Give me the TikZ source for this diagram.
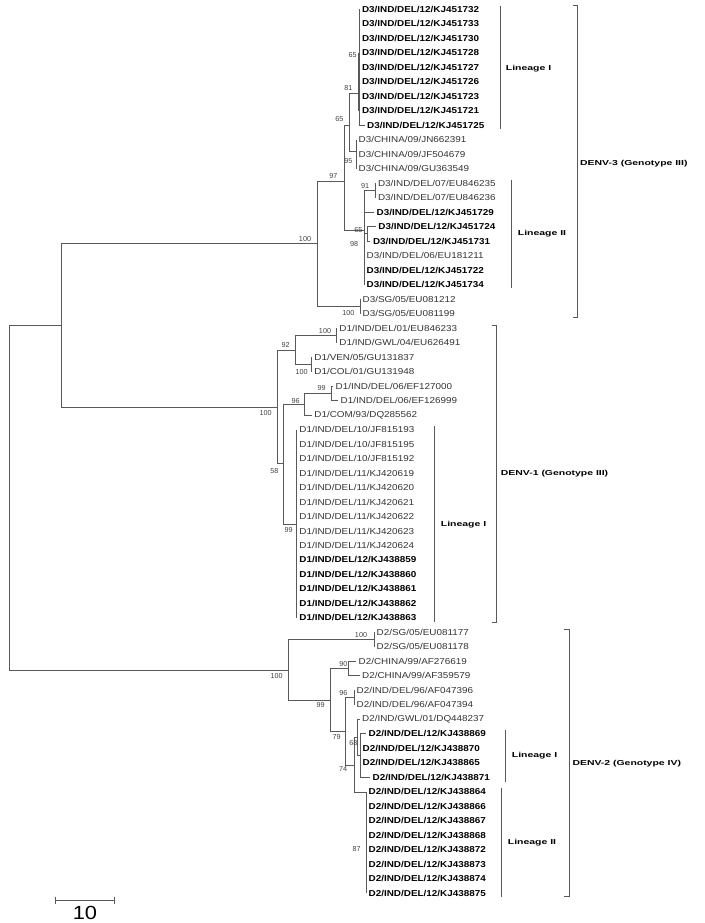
\documentclass[tikz,border=0pt]{standalone}
\usepackage{fontspec}
\setmainfont{Liberation Sans}[FakeStretch=1.15]
\newfontfamily\cladefont{Liberation Sans}[FakeStretch=1.45]
\newfontfamily\bootfont{Liberation Sans}
\begin{document}
\begin{tikzpicture}[x=1pt,y=-1pt,
  branch/.style={draw=black!65,line width=0.95pt},
  bracket/.style={draw=black!65,line width=0.95pt},
  leaf/.style={anchor=west,inner xsep=2.5pt,inner ysep=0.5pt,text=black!80,font=\fontsize{8.6}{10}\selectfont},
  leafb/.style={leaf,text=black,font=\fontsize{8.6}{10}\selectfont\bfseries},
  boot/.style={inner sep=0pt,text=black!75,font=\bootfont\fontsize{7.2}{8}\selectfont},
  clade/.style={anchor=west,inner sep=0pt,font=\cladefont\fontsize{7.2}{8}\selectfont\bfseries}]
\useasboundingbox (0,0) rectangle (704,923);

% DENV-3 leaves
\foreach \acc [count=\i] in {KJ451732,KJ451733,KJ451730,KJ451728,KJ451727,KJ451726,KJ451723,KJ451721}
  \node[leafb] (a\i) at (359.3,{9.3+14.49*(\i-1)}) {D3/IND/DEL/12/\acc};
\node[leafb] (a9) at (364.5,125.2) {D3/IND/DEL/12/KJ451725};
\node[leaf] (a10) at (356,139.7) {D3/CHINA/09/JN662391};
\node[leaf] (a11) at (356,154.2) {D3/CHINA/09/JF504679};
\node[leaf] (a12) at (356,168.7) {D3/CHINA/09/GU363549};
\node[leaf] (a13) at (375.3,183.2) {D3/IND/DEL/07/EU846235};
\node[leaf] (a14) at (375.3,197.7) {D3/IND/DEL/07/EU846236};
\node[leafb] (a15) at (374,212.2) {D3/IND/DEL/12/KJ451729};
\node[leafb] (a16) at (375.7,226.7) {D3/IND/DEL/12/KJ451724};
\node[leafb] (a17) at (370.3,241.1) {D3/IND/DEL/12/KJ451731};
\node[leaf] (a18) at (364,255.6) {D3/IND/DEL/06/EU181211};
\node[leafb] (a19) at (364,270.1) {D3/IND/DEL/12/KJ451722};
\node[leafb] (a20) at (364,284.6) {D3/IND/DEL/12/KJ451734};
\node[leaf] (a21) at (360,299.1) {D3/SG/05/EU081212};
\node[leaf] (a22) at (360,313.6) {D3/SG/05/EU081199};

% DENV-1 leaves
\node[leaf] (b1) at (336.7,328.1) {D1/IND/DEL/01/EU846233};
\node[leaf] (b2) at (336.7,342.6) {D1/IND/GWL/04/EU626491};
\node[leaf] (b3) at (311.7,357.1) {D1/VEN/05/GU131837};
\node[leaf] (b4) at (311.7,371.6) {D1/COL/01/GU131948};
\node[leaf] (b5) at (333,386.0) {D1/IND/DEL/06/EF127000};
\node[leaf] (b6) at (338,400.5) {D1/IND/DEL/06/EF126999};
\node[leaf] (b7) at (311.7,415.0) {D1/COM/93/DQ285562};
\foreach \acc [count=\i from 8] in {JF815193,JF815195,JF815192}
  \node[leaf] (b\i) at (296.7,{9.3+14.49*(\i+21)}) {D1/IND/DEL/10/\acc};
\foreach \n [count=\i from 11] in {619,...,624}
  \node[leaf] (b\i) at (296.7,{9.3+14.49*(\i+21)}) {D1/IND/DEL/11/KJ420\n};
\foreach \n [count=\i from 17] in {859,...,863}
  \node[leafb] (b\i) at (296.7,{9.3+14.49*(\i+21)}) {D1/IND/DEL/12/KJ438\n};

% DENV-2 leaves
\node[leaf] (c1) at (374,632.4) {D2/SG/05/EU081177};
\node[leaf] (c2) at (374,646.9) {D2/SG/05/EU081178};
\node[leaf] (c3) at (356,661.4) {D2/CHINA/99/AF276619};
\node[leaf] (c4) at (359.5,675.9) {D2/CHINA/99/AF359579};
\node[leaf] (c5) at (354,690.3) {D2/IND/DEL/96/AF047396};
\node[leaf] (c6) at (354,704.8) {D2/IND/DEL/96/AF047394};
\node[leaf] (c7) at (359.5,719.3) {D2/IND/GWL/01/DQ448237};
\node[leafb] (c8) at (366,733.8) {D2/IND/DEL/12/KJ438869};
\node[leafb] (c9) at (360,748.3) {D2/IND/DEL/12/KJ438870};
\node[leafb] (c10) at (360,762.8) {D2/IND/DEL/12/KJ438865};
\node[leafb] (c11) at (370,777.3) {D2/IND/DEL/12/KJ438871};
\foreach \acc [count=\i from 12] in {KJ438864,KJ438866,KJ438867,KJ438868,KJ438872,KJ438873,KJ438874,KJ438875}
  \node[leafb] (c\i) at (366,{9.3+14.49*(\i+42)}) {D2/IND/DEL/12/\acc};

% backbone
\coordinate (root) at (9.3,497.8);
\coordinate (n31) at (61,325.5);
\coordinate (d3) at (317,243.5);
\coordinate (d1) at (277.7,407.3);
\coordinate (d2) at (288.7,670);
\draw[branch] (root) |- (n31) (root) |- (d2);
\draw[branch] (n31) |- (d3) (n31) |- (d1);

% DENV-3 clade
\coordinate (n97) at (344.3,181.7);
\coordinate (sg3) at (360,306);
\coordinate (n65b) at (349.3,125);
\coordinate (l2n) at (364,230);
\coordinate (l1n) at (359.3,93.3);
\coordinate (n65a) at (359.3,86);
\coordinate (n95) at (356,151.7);
\coordinate (n91) at (375.3,190.4);
\coordinate (n65c) at (367.7,233.9);
\draw[branch] (d3) |- (n97) (d3) |- (sg3);
\draw[branch] (sg3) |- (a21.west) (sg3) |- (a22.west);
\draw[branch] (n97) |- (n65b) (n97) |- (l2n);
\draw[branch] (n65b) |- (l1n) (n65b) |- (n95);
\foreach \i in {1,...,9} \draw[branch] (l1n) |- (a\i.west);
\draw[branch,line width=1.8pt] (n65a) |- (a4.west) (n65a) |- (a8.west);
\foreach \i in {10,11,12} \draw[branch] (n95) |- (a\i.west);
\draw[branch] (l2n) |- (n91) (l2n) |- (a15.west) (l2n) |- (n65c);
\foreach \i in {18,19,20} \draw[branch] (l2n) |- (a\i.west);
\draw[branch] (n91) |- (a13.west) (n91) |- (a14.west);
\draw[branch] (n65c) |- (a16.west) (n65c) |- (a17.west);

% DENV-1 clade
\coordinate (n92) at (295,350.7);
\coordinate (n58) at (283.3,463.3);
\coordinate (n100a) at (336.7,335.4);
\coordinate (n100b) at (311.7,364.4);
\coordinate (n96) at (304,404.5);
\coordinate (n99) at (331,393.3);
\coordinate (l1d1) at (296.7,524.3);
\draw[branch] (d1) |- (n92) (d1) |- (n58);
\draw[branch] (n92) |- (n100a) (n92) |- (n100b);
\draw[branch] (n100a) |- (b1.west) (n100a) |- (b2.west);
\draw[branch] (n100b) |- (b3.west) (n100b) |- (b4.west);
\draw[branch] (n58) |- (n96) (n58) |- (l1d1);
\draw[branch] (n96) |- (n99) (n96) |- (b7.west);
\draw[branch] (n99) |- (b5.west) (n99) |- (b6.west);
\foreach \i in {8,...,21} \draw[branch] (l1d1) |- (b\i.west);

% DENV-2 clade
\coordinate (sg2) at (374,639.7);
\coordinate (n99d) at (330.7,700);
\coordinate (n90) at (348.3,668.6);
\coordinate (n79) at (345,731);
\coordinate (n96d) at (354,697.6);
\coordinate (n74) at (354,765);
\coordinate (nA) at (357.7,737.4);
\coordinate (n68) at (360,755.5);
\coordinate (l2d2) at (366,792.6);
\draw[branch] (d2) |- (sg2) (d2) |- (n99d);
\draw[branch] (sg2) |- (c1.west) (sg2) |- (c2.west);
\draw[branch] (n99d) |- (n90) (n99d) |- (n79);
\draw[branch] (n90) |- (c3.west) (n90) |- (c4.west);
\draw[branch] (n79) |- (n96d) (n79) |- (n74);
\draw[branch] (n96d) |- (c5.west) (n96d) |- (c6.west);
\draw[branch] (n74) |- (nA) (n74) |- (l2d2);
\draw[branch] (nA) |- (c7.west) (nA) |- (n68);
\foreach \i in {8,...,11} \draw[branch] (n68) |- (c\i.west);
\foreach \i in {12,...,19} \draw[branch] (l2d2) |- (c\i.west);

% bootstrap values
\node[boot] (bs1) at (305,239) {100};
\node[boot] (bs2) at (352.7,55) {65};
\node[boot] (bs3) at (348.3,88) {81};
\node[boot] (bs4) at (339.3,119) {65};
\node[boot] (bs5) at (348.3,160.7) {95};
\node[boot] (bs6) at (333.3,176) {97};
\node[boot] (bs7) at (365,185.7) {91};
\node[boot] (bs8) at (358.3,230) {65};
\node[boot] (bs9) at (354,244) {98};
\node[boot] (bs10) at (348.3,313.3) {100};
\node[boot] (bs11) at (265.7,413.3) {100};
\node[boot] (bs12) at (285.7,345) {92};
\node[boot] (bs13) at (325,330.7) {100};
\node[boot] (bs14) at (301.7,371.7) {100};
\node[boot] (bs15) at (274.3,470.7) {58};
\node[boot] (bs16) at (295.7,400.7) {96};
\node[boot] (bs17) at (321.7,388.3) {99};
\node[boot] (bs18) at (288.7,530) {99};
\node[boot] (bs19) at (276.7,676) {100};
\node[boot] (bs20) at (361,635) {100};
\node[boot] (bs21) at (320.7,705) {99};
\node[boot] (bs22) at (343.3,664) {90};
\node[boot] (bs23) at (343.3,692.7) {96};
\node[boot] (bs24) at (336.7,736.7) {79};
\node[boot] (bs25) at (353.3,743.3) {68};
\node[boot] (bs26) at (343,769) {74};
\node[boot] (bs27) at (356.7,849.3) {87};

% lineage and serotype brackets
\draw[bracket] (500,6) -- (500,129.3);
\node[clade] (lin3a) at (505.7,68.3) {Lineage I};
\draw[bracket] (511.7,180) -- (511.7,288.3);
\node[clade] (lin3b) at (517.7,234) {Lineage II};
\draw[bracket] (572.7,5) -- (577.3,5) -- (577.3,317.3) -- (572.7,317.3);
\node[clade] (denv3) at (580,163.3) {DENV-3 (Genotype III)};
\draw[bracket] (434.3,426) -- (434.3,621.7);
\node[clade] (lin1a) at (440.7,524.3) {Lineage I};
\draw[bracket] (491.7,325) -- (496.7,325) -- (496.7,622.3) -- (491.7,622.3);
\node[clade] (denv1) at (500.7,473.3) {DENV-1 (Genotype III)};
\draw[bracket] (505.7,730) -- (505.7,781.7);
\node[clade] (lin2a) at (511.7,756) {Lineage I};
\draw[bracket] (501.7,788.3) -- (501.7,897.3);
\node[clade] (lin2b) at (507.7,842.7) {Lineage II};
\draw[bracket] (564.3,629.3) -- (569,629.3) -- (569,896.7) -- (564.3,896.7);
\node[clade] (denv2) at (572.3,763.3) {DENV-2 (Genotype IV)};

% scale bar
\coordinate (s0) at (55,900);
\coordinate (s1) at (114,900);
\draw[branch] (s0) -- (s1);
\draw[branch] ([yshift=3.5pt]s0) -- ([yshift=-3.5pt]s0) ([yshift=3.5pt]s1) -- ([yshift=-3.5pt]s1);
\node[inner sep=0pt,font=\fontsize{19}{20}\selectfont] (scale) at (85,912.5) {10};
\end{tikzpicture}
\end{document}
